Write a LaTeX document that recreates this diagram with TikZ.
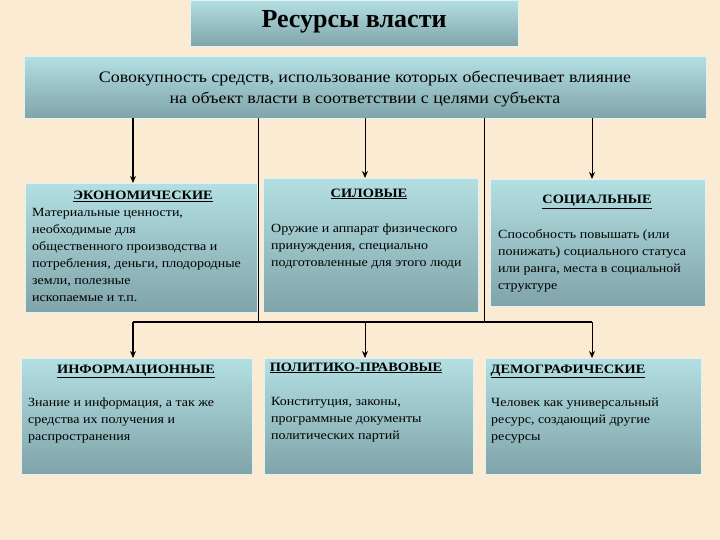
\documentclass[tikz,border=0pt]{standalone}
\usepackage{fontspec}
\setmainfont{Liberation Serif}
\newfontfamily\bodyf[FakeStretch=1.12]{Liberation Serif}
\usetikzlibrary{arrows.meta}
\definecolor{bg}{HTML}{FBEBD2}
\definecolor{boxtop}{HTML}{B3DFE3}
\definecolor{boxbot}{HTML}{7FA4A9}
\tikzset{
  panel/.style={top color=boxtop,bottom color=boxbot,draw=white!60!boxtop,line width=0.7pt,inner sep=0pt,anchor=north west},
  head/.style={font=\bodyf\fontsize{12.8}{15}\selectfont\bfseries,anchor=base,inner sep=0pt},
  body/.style={font=\bodyf\fontsize{12.5}{17}\selectfont,align=left,anchor=north west,inner sep=0pt},
  thinline/.style={line width=1pt,draw=black},
  thickline/.style={line width=1.8pt,draw=black},
  arr/.style={-{Stealth[length=7pt,width=6pt]}},
}
\begin{document}
\begin{tikzpicture}[x=1pt,y=-1pt]
\useasboundingbox (0,0) rectangle (720,540);
\fill[bg] (0,0) rectangle (720,540);

% title
\node[panel,minimum width=328pt,minimum height=46pt] (title) at (190,0) {};
\node[font=\fontsize{26}{30}\selectfont\bfseries,inner sep=0pt] (titletext) at (354,22) {Ресурсы власти};

% main box
\node[panel,minimum width=682pt,minimum height=62pt] (main) at (24,56) {};
\node[font=\bodyf\fontsize{16}{21}\selectfont,align=center,inner sep=0pt] (maintext) at (365,89)
  {Совокупность средств, использование которых обеспечивает влияние\\на объект власти в соответствии с целями субъекта};

% row 1 boxes
\node[panel,minimum width=232pt,minimum height=129pt] (b1) at (25,183) {};
\node[panel,minimum width=215pt,minimum height=134pt] (b2) at (263,178) {};
\node[panel,minimum width=215pt,minimum height=127pt] (b3) at (490,179) {};
% row 2 boxes
\node[panel,minimum width=231pt,minimum height=116pt] (b4) at (21,358) {};
\node[panel,minimum width=209pt,minimum height=116pt] (b5) at (264,358) {};
\node[panel,minimum width=216pt,minimum height=116pt] (b6) at (485,358) {};

% headings
\node[head] (h1) at (143,200) {\underline{ЭКОНОМИЧЕСКИЕ}};
\node[head] (h2) at (369,197) {\underline{СИЛОВЫЕ}};
\node[head] (h3) at (597,204) {\underline{СОЦИАЛЬНЫЕ}};
\node[head] (h4) at (136,373) {\underline{ИНФОРМАЦИОННЫЕ}};
\node[head] (h5) at (356,371) {\underline{ПОЛИТИКО-ПРАВОВЫЕ}};
\node[head] (h6) at (568,373) {\underline{ДЕМОГРАФИЧЕСКИЕ}};

% bodies
\node[body] (t1) at (32,208) {Материальные ценности,\\необходимые для\\общественного производства и\\потребления, деньги, плодородные\\земли, полезные\\ископаемые и т.п.};
\node[body] (t2) at (271,224) {Оружие и аппарат физического\\принуждения, специально\\подготовленные для этого люди};
\node[body] (t3) at (498,229) {Способность повышать (или\\понижать) социального статуса\\или ранга, места в социальной\\структуре};
\node[body] (t4) at (28,398) {Знание и информация, а так же\\средства их получения и\\распространения};
\node[body] (t5) at (271,397) {Конституция, законы,\\программные документы\\политических партий};
\node[body] (t6) at (491,398) {Человек как универсальный\\ресурс, создающий другие\\ресурсы};

% connector points
\coordinate (s1) at (133,118);
\coordinate (s2) at (258.5,118);
\coordinate (s3) at (365,118);
\coordinate (s4) at (484,118);
\coordinate (s5) at (592,118);
\coordinate (j1) at (133,322);
\coordinate (j2) at (258.5,322);
\coordinate (j3) at (365,322);
\coordinate (j4) at (484,322);
\coordinate (j5) at (592,322);

% top arrows
\draw[thickline,arr] (s1) -- (s1 |- b1.north);
\draw[thinline,arr] (s3) -- (s3 |- b2.north);
\draw[thinline,arr] (s5) -- (s5 |- b3.north);
% vertical lines to bus
\draw[thinline] (s2) -- (j2);
\draw[thinline] (s4) -- (j4);
% bus
\draw[thickline] (j1) -- (j5);
% bottom arrows
\draw[thickline,arr] (j1) -- (j1 |- b4.north);
\draw[thinline,arr] (j3) -- (j3 |- b5.north);
\draw[thinline,arr] (j5) -- (j5 |- b6.north);
\end{tikzpicture}
\end{document}
